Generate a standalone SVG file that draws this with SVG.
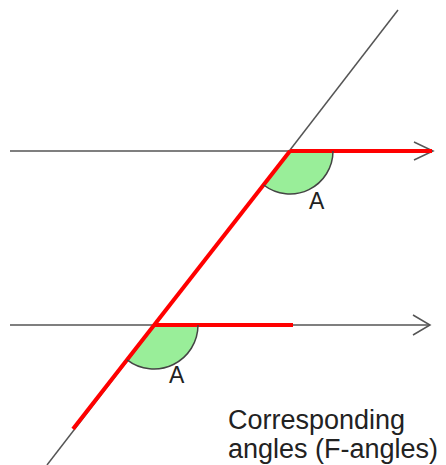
<svg xmlns="http://www.w3.org/2000/svg" width="446" height="465" viewBox="0 0 446 465">
<style>
.thin{stroke:#555;stroke-width:1.5;fill:none}
.red{stroke:#ff0000;stroke-width:4;fill:none;stroke-linecap:butt}
.fill{fill:#99ee99;stroke:none}
.arc{stroke:#444;stroke-width:1.5;fill:none}
.lbl{font-family:"Liberation Sans",Arial,sans-serif;fill:#222}
</style>
<rect width="446" height="465" fill="#ffffff"/>
<g id="angle-upper">
<path class="fill" d="M290,151 L333,151 A43,43 0 0 1 263.7,185 Z"/>
</g>
<g id="angle-lower">
<path class="fill" d="M154,325 L198,325 A44,44 0 0 1 127.1,359.8 Z"/>
</g>
<g id="connectors">
<line class="thin" x1="10" y1="151" x2="432" y2="151"/>
<polyline class="thin" points="414,142 433,151 414,160"/>
<line class="thin" x1="10" y1="325" x2="430" y2="325"/>
<polyline class="thin" points="413,315 430,325 413,335"/>
<line class="thin" x1="398" y1="10" x2="47" y2="465"/>
<line class="red" x1="290" y1="151" x2="432" y2="151"/>
<line class="red" x1="154" y1="325" x2="293" y2="325"/>
<line class="red" x1="290" y1="151" x2="73" y2="429"/>
</g>
<g id="arc-upper"><path class="arc" d="M333,151 A43,43 0 0 1 263.7,185"/></g>
<g id="arc-lower"><path class="arc" d="M198,325 A44,44 0 0 1 127.1,359.8"/></g>
<g id="label-upper"><text class="lbl" x="309" y="209" font-size="23">A</text></g>
<g id="label-lower"><text class="lbl" x="169" y="383" font-size="23">A</text></g>
<g id="caption">
<text class="lbl" x="228" y="429" font-size="27">Corresponding</text>
<text class="lbl" x="228" y="458" font-size="27">angles (F-angles)</text>
</g>
</svg>
